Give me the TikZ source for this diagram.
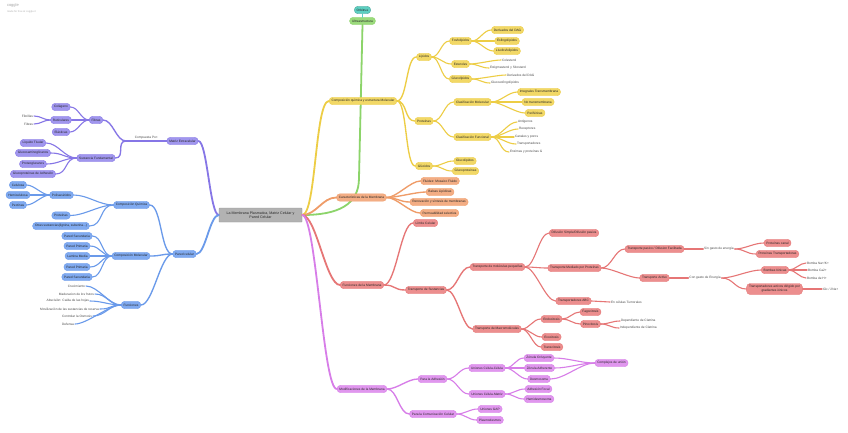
\documentclass[tikz,border=0pt]{standalone}
\usepackage{fontspec}
\setmainfont{Liberation Sans}
\usetikzlibrary{positioning}
\definecolor{vioL}{HTML}{8676E6}
\definecolor{vioF}{HTML}{A096EE}
\definecolor{bluL}{HTML}{6A9AEA}
\definecolor{bluF}{HTML}{80AAF0}
\definecolor{yelL}{HTML}{EDCD45}
\definecolor{yelF}{HTML}{F2D866}
\definecolor{oraL}{HTML}{EF9C68}
\definecolor{oraF}{HTML}{F3AD84}
\definecolor{redL}{HTML}{E67676}
\definecolor{redF}{HTML}{EC8E8E}
\definecolor{pnkL}{HTML}{D77DE8}
\definecolor{pnkF}{HTML}{E096EE}
\definecolor{grnL}{HTML}{8CD46A}
\definecolor{grnF}{HTML}{9BDA7C}
\definecolor{tealF}{HTML}{5DCFC1}
\begin{document}
\begin{tikzpicture}[x=1pt,y=-1pt,
    box/.style={rounded corners=3.5pt, inner xsep=2.4pt, inner ysep=0pt, minimum height=7.4pt,
        line width=0.35pt, font=\fontsize{3.2}{3.8}\selectfont, text=black!85},
    violetbox/.style={box, fill=vioF, draw=vioL},
    bluebox/.style={box, fill=bluF, draw=bluL},
    yellowbox/.style={box, fill=yelF, draw=yelL},
    orangebox/.style={box, fill=oraF, draw=oraL},
    redbox/.style={box, fill=redF, draw=redL},
    pinkbox/.style={box, fill=pnkF, draw=pnkL},
    greenbox/.style={box, fill=grnF, draw=grnL},
    tealbox/.style={box, fill=tealF, draw=tealF!80!black},
    txt/.style={inner sep=0.8pt, font=\fontsize{3.2}{3.8}\selectfont, text=black!70},
    fr/.style={out=0,in=180,distance=#1},
    fl/.style={out=180,in=0,distance=#1},
    l1/.style={line width=1.8pt, line cap=round},
    l2/.style={line width=1.35pt, line cap=round},
    l3/.style={line width=1.1pt, line cap=round},
]
\fill[white] (0,0) rectangle (848,432);
\useasboundingbox (0,0) rectangle (848,432);

% watermark
\node[txt, text=black!35, anchor=west, font=\fontsize{4}{5}\selectfont] (logo) at (6,5) {coggle};
\node[txt, text=black!30, anchor=west, font=\fontsize{2.6}{3}\selectfont] (made) at (6,12) {made for free at coggle.it};

% centre
\node[box, rounded corners=0.5pt, fill=black!30, draw=black!42, align=center,
    minimum width=83pt, minimum height=14pt, font=\fontsize{3.6}{4.3}\selectfont] (c) at (260.5,215)
    {La Membrana Plasmatica, Matriz Celular y\\Pared Celular};

% top
\node[tealbox] (orb) at (362.5,10) {Orbitrue};
\node[greenbox] (ultra) at (362.5,21) {Ultraestructura};
\coordinate (gbend) at (359,178);
\draw[grnL, l1] (c.east) .. controls (338,215) and (359,205) .. (gbend) -- (ultra.south);
\draw[tealF, l2] (orb.south) -- (ultra.north);

% yellow branch
\node[yellowbox] (comp) at (363,101) {Composición química y estructura Molecular};
\node[yellowbox] (lip) at (424,57) {Lípidos};
\node[yellowbox] (prot) at (424,121) {Proteínas};
\node[yellowbox] (gluc) at (424,166) {Glúcidos};
\node[yellowbox] (fosf) at (460.5,41) {Fosfolípidos};
\node[yellowbox] (est) at (460.5,64) {Esteroles};
\node[yellowbox] (glucl) at (460.5,79) {Glucolípidos};
\node[yellowbox] (dag) at (507.5,30) {Derivados del DAG};
\node[yellowbox] (esfing) at (507,41) {Esfingolípidos};
\node[yellowbox] (liso) at (507,51) {Lisofosfolípidos};
\node[txt, anchor=west] (colest) at (501,60) {Colesterol};
\node[txt, anchor=west] (estig) at (489,68) {Estigmasterol y Sitosterol};
\node[txt, anchor=west] (dagb) at (506,75) {Derivados del DAG};
\node[txt, anchor=west] (glesf) at (490,83) {Glucoesfingolípidos};
\node[yellowbox] (clmol) at (472.5,102) {Clasificación Molecular};
\node[yellowbox] (clfun) at (472.5,137) {Clasificación Funcional};
\node[yellowbox] (integ) at (539,92) {Integrales Transmembrana};
\node[yellowbox] (notr) at (538,102) {No transmembrana};
\node[yellowbox] (perif) at (535,113) {Periféricas};
\node[txt, anchor=west] (antig) at (517,122) {Antígenos};
\node[txt, anchor=west] (recep) at (518,129) {Receptores};
\node[txt, anchor=west] (canal) at (514,137) {Canales y poros};
\node[txt, anchor=west] (transp) at (516,144) {Transportadores};
\node[txt, anchor=west] (enzim) at (509,152) {Enzimas y proteínas G};
\node[yellowbox] (glucl2) at (465,161) {Glucolípidos};
\node[yellowbox] (glucp) at (465.5,171) {Glucoproteínas};

\draw[yelL, l1] (c.east) to[fr=14pt] (comp.west);
\draw[yelL, l2] (comp.east) to[fr=10pt] (lip.west);
\draw[yelL, l2] (comp.east) to[fr=10pt] (prot.west);
\draw[yelL, l2] (comp.east) to[fr=10pt] (gluc.west);
\draw[yelL, l3] (lip.east) to[fr=8pt] (fosf.west);
\draw[yelL, l3] (lip.east) to[fr=8pt] (est.west);
\draw[yelL, l3] (lip.east) to[fr=8pt] (glucl.west);
\draw[yelL, l3] (fosf.east) to[fr=8pt] (dag.west);
\draw[yelL, l3] (fosf.east) to[fr=8pt] (esfing.west);
\draw[yelL, l3] (fosf.east) to[fr=8pt] (liso.west);
\draw[yelL, l3] (est.east) to[fr=8pt] (colest.west);
\draw[yelL, l3] (est.east) to[fr=8pt] (estig.west);
\draw[yelL, l3] (glucl.east) to[fr=8pt] (dagb.west);
\draw[yelL, l3] (glucl.east) to[fr=8pt] (glesf.west);
\draw[yelL, l3] (prot.east) to[fr=9pt] (clmol.west);
\draw[yelL, l3] (prot.east) to[fr=9pt] (clfun.west);
\draw[yelL, l3] (clmol.east) to[fr=9pt] (integ.west);
\draw[yelL, l3] (clmol.east) to[fr=9pt] (notr.west);
\draw[yelL, l3] (clmol.east) to[fr=9pt] (perif.west);
\draw[yelL, l3] (clfun.east) to[fr=9pt] (antig.west);
\draw[yelL, l3] (clfun.east) to[fr=9pt] (recep.west);
\draw[yelL, l3] (clfun.east) to[fr=9pt] (canal.west);
\draw[yelL, l3] (clfun.east) to[fr=9pt] (transp.west);
\draw[yelL, l3] (clfun.east) to[fr=9pt] (enzim.west);
\draw[yelL, l3] (gluc.east) to[fr=9pt] (glucl2.west);
\draw[yelL, l3] (gluc.east) to[fr=9pt] (glucp.west);

% orange branch
\node[orangebox] (carac) at (361.5,197.5) {Características de la Membrana};
\node[orangebox] (fluid) at (440,181) {Fluidez: Mosaico Fluido};
\node[orangebox] (balsas) at (440,192) {Balsas Lipídicas};
\node[orangebox] (renov) at (439,202) {Renovación y síntesis de membranas};
\node[orangebox] (perm) at (439.5,213) {Permeabilidad selectiva};
\draw[oraL, l1] (c.east) to[fr=14pt] (carac.west);
\draw[oraL, l2] (carac.east) to[fr=10pt] (fluid.west);
\draw[oraL, l2] (carac.east) to[fr=10pt] (balsas.west);
\draw[oraL, l2] (carac.east) to[fr=10pt] (renov.west);
\draw[oraL, l2] (carac.east) to[fr=10pt] (perm.west);

% red branch
\node[redbox] (func2) at (362,285) {Funciones de la Membrana};
\node[redbox] (limite) at (425.5,223) {Límite Celular};
\node[redbox] (transus) at (426,290) {Transporte de Sustancias};
\node[redbox] (peq) at (497.5,267) {Transporte de moléculas pequeñas};
\node[redbox] (macro) at (497,329) {Transporte de Macromoléculas};
\node[redbox] (difs) at (574,233) {Difusión Simple/Difusión pasiva};
\node[redbox] (mediado) at (574.5,268) {Transporte Mediado por Proteínas};
\node[redbox] (abc) at (573.5,301) {Transportadores ABC};
\node[txt, anchor=west] (tumor) at (610,302) {En células Tumorales};
\node[redbox] (pasivo) at (654.5,249) {Transporte pasivo / Difusion Facilitada};
\node[txt] (sin) at (719,249) {Sin gasto de energía};
\node[redbox] (pcanal) at (777.5,243) {Proteínas canal};
\node[redbox] (ptransp) at (777.5,254) {Proteínas Transportadoras};
\node[redbox] (activo) at (654.5,278) {Transporte Activo};
\node[txt] (con) at (705,278) {Con gasto de Energía};
\node[redbox] (bombas) at (775,270) {Bombas Iónicas};
\node[redbox, align=center, minimum height=11pt] (tagi) at (774.5,289)
    {Transportadores activos dirigido por\\gradientes iónicos};
\node[txt, anchor=west] (nak) at (806,263) {Bomba Na+/K+};
\node[txt, anchor=west] (cadp) at (807,270) {Bomba Ca2+};
\node[txt, anchor=west] (hp) at (806,278) {Bomba de H+};
\node[txt, anchor=west] (glc) at (822,289) {Glc / 2Na+};
\node[redbox] (endo) at (551.5,319) {Endocitosis};
\node[redbox] (fago) at (590.5,312) {Fagocitosis};
\node[redbox] (pino) at (590.5,324) {Pinocitosis};
\node[txt, anchor=west] (dep) at (620,321) {Dependiente de Clatrina};
\node[txt, anchor=west] (indep) at (619,328) {Independiente de Clatrina};
\node[redbox] (exo) at (551.5,337) {Exocitosis};
\node[redbox] (transc) at (552,347) {Transcitosis};

\draw[redL, l1] (c.east) to[fr=14pt] (func2.west);
\draw[redL, l2] (func2.east) to[fr=12pt] (limite.west);
\draw[redL, l2] (func2.east) to[fr=12pt] (transus.west);
\draw[redL, l2] (transus.east) to[fr=10pt] (peq.west);
\draw[redL, l2] (transus.east) to[fr=10pt] (macro.west);
\draw[redL, l3] (peq.east) to[fr=10pt] (difs.west);
\draw[redL, l3] (peq.east) to[fr=10pt] (mediado.west);
\draw[redL, l3] (peq.east) to[fr=10pt] (abc.west);
\draw[redL, l3] (abc.east) -- (tumor.west);
\draw[redL, l3] (mediado.east) to[fr=10pt] (pasivo.west);
\draw[redL, l3] (mediado.east) to[fr=10pt] (activo.west);
\draw[redL, l3] (pasivo.east) -- (sin.west);
\draw[redL, l3] (sin.east) to[fr=10pt] (pcanal.west);
\draw[redL, l3] (sin.east) to[fr=10pt] (ptransp.west);
\draw[redL, l3] (activo.east) -- (con.west);
\draw[redL, l3] (con.east) to[fr=12pt] (bombas.west);
\draw[redL, l3] (con.east) to[fr=12pt] (tagi.west);
\draw[redL, l3] (bombas.east) to[fr=6pt] (nak.west);
\draw[redL, l3] (bombas.east) to[fr=6pt] (cadp.west);
\draw[redL, l3] (bombas.east) to[fr=6pt] (hp.west);
\draw[redL, l3] (tagi.east) -- (glc.west);
\draw[redL, l3] (macro.east) to[fr=8pt] (endo.west);
\draw[redL, l3] (macro.east) to[fr=8pt] (exo.west);
\draw[redL, l3] (macro.east) to[fr=8pt] (transc.west);
\draw[redL, l3] (endo.east) to[fr=7pt] (fago.west);
\draw[redL, l3] (endo.east) to[fr=7pt] (pino.west);
\draw[redL, l3] (pino.east) to[fr=8pt] (dep.west);
\draw[redL, l3] (pino.east) to[fr=8pt] (indep.west);

% pink branch
\node[pinkbox] (modif) at (362,389) {Modificaciones de la Membrana};
\node[pinkbox] (padh) at (432.5,379) {Para la Adhesión};
\node[pinkbox] (pcom) at (433,414) {Para la Comunicación Celular};
\node[pinkbox] (ucc) at (487,368) {Uniones Célula-Célula};
\node[pinkbox] (ucm) at (487,394) {Uniones Célula-Matriz};
\node[pinkbox] (zo) at (539,358) {Zónula Ocluyente};
\node[pinkbox] (za) at (539.5,368) {Zónula Adherente};
\node[pinkbox] (desm) at (539,379) {Desmosoma};
\node[pinkbox] (compl) at (611.5,363) {Complejos de unión};
\node[pinkbox] (afoc) at (538.5,389) {Adhesión Focal};
\node[pinkbox] (hemi) at (539,399) {Hemidesmosoma};
\node[pinkbox] (gap) at (490,409) {Uniones GAP};
\node[pinkbox] (plasmo) at (490,420) {Plasmodesmos};
\draw[pnkL, l1] (c.east) to[fr=14pt] (modif.west);
\draw[pnkL, l2] (modif.east) to[fr=10pt] (padh.west);
\draw[pnkL, l2] (modif.east) to[fr=10pt] (pcom.west);
\draw[pnkL, l3] (padh.east) to[fr=9pt] (ucc.west);
\draw[pnkL, l3] (padh.east) to[fr=9pt] (ucm.west);
\draw[pnkL, l3] (ucc.east) to[fr=8pt] (zo.west);
\draw[pnkL, l3] (ucc.east) to[fr=8pt] (za.west);
\draw[pnkL, l3] (ucc.east) to[fr=8pt] (desm.west);
\draw[pnkL, l3] (zo.east) to[fr=14pt] (compl.west);
\draw[pnkL, l3] (za.east) to[fr=14pt] (compl.west);
\draw[pnkL, l3] (desm.east) to[fr=14pt] (compl.west);
\draw[pnkL, l3] (ucm.east) to[fr=8pt] (afoc.west);
\draw[pnkL, l3] (ucm.east) to[fr=8pt] (hemi.west);
\draw[pnkL, l3] (pcom.east) to[fr=8pt] (gap.west);
\draw[pnkL, l3] (pcom.east) to[fr=8pt] (plasmo.west);

% violet branch
\node[violetbox] (matriz) at (182.5,141) {Matriz Extracelular};
\coordinate (cpor) at (126,141);
\node[violetbox] (fibras) at (96,120) {Fibras};
\node[violetbox] (sust) at (96,158) {Sustancia Fundamental};
\node[violetbox] (colag) at (61,107) {Colágeno};
\node[violetbox] (retic) at (61,120) {Reticulares};
\node[violetbox] (elast) at (61,132) {Elásticas};
\node[txt, anchor=east] (fibril) at (34,116) {Fibrillas};
\node[txt, anchor=east] (fibra) at (34,124) {Fibras};
\node[violetbox] (liq) at (33,143) {Líquido Tisular};
\node[violetbox] (gag) at (33,153) {Glucosaminoglicanos};
\node[violetbox] (proteog) at (33,164) {Proteoglucanos};
\node[violetbox] (glucad) at (33,174) {Glucoproteínas de Adhesión};
\draw[vioL, l1] (c.west) to[fl=9pt] (matriz.east);
\draw[vioL, l2] (matriz.west) -- node[txt, above=0.3pt] (cplab) {Compuesta Por:} (cpor);
\draw[vioL, l2] (cpor) to[fl=10pt] (fibras.east);
\draw[vioL, l2] (cpor) to[fl=10pt] (sust.east);
\draw[vioL, l3] (fibras.west) to[fl=8pt] (colag.east);
\draw[vioL, l3] (fibras.west) to[fl=8pt] (retic.east);
\draw[vioL, l3] (fibras.west) to[fl=8pt] (elast.east);
\draw[vioL, l3] (retic.west) to[fl=7pt] (fibril.east);
\draw[vioL, l3] (retic.west) to[fl=7pt] (fibra.east);
\draw[vioL, l3] (sust.west) to[fl=12pt] (liq.east);
\draw[vioL, l3] (sust.west) to[fl=12pt] (gag.east);
\draw[vioL, l3] (sust.west) to[fl=12pt] (proteog.east);
\draw[vioL, l3] (sust.west) to[fl=12pt] (glucad.east);

% blue branch
\node[bluebox] (pared) at (184.5,254) {Pared celular};
\node[bluebox] (cq) at (131.5,205) {Composición Química};
\node[bluebox] (cm) at (131,256) {Composición Molecular};
\node[bluebox] (funcs) at (131,305) {Funciones};
\node[bluebox] (polis) at (61.5,195) {Polisacáridos};
\node[bluebox] (prot2) at (61,215.5) {Proteínas};
\node[bluebox] (otras) at (61,226) {Otras sustancias(lignina, suberina...)};
\node[bluebox] (celu) at (18,185) {Celulosa};
\node[bluebox] (hemic) at (18,195) {Hemicelulosa};
\node[bluebox] (pect) at (18,205) {Pectinas};
\node[bluebox] (ps1) at (77,236) {Pared Secundaria};
\node[bluebox] (pp1) at (77,246) {Pared Primaria};
\node[bluebox] (lm) at (77.5,256) {Lamina Media};
\node[bluebox] (pp2) at (77,267) {Pared Primaria};
\node[bluebox] (ps2) at (77,277) {Pared Secundaria};
\node[txt, anchor=east] (crec) at (86,286) {Crecimiento};
\node[txt, anchor=east] (madur) at (95,294) {Maduracion de los frutos};
\node[txt, anchor=east] (absc) at (90,301) {Abscisión: Caída de las hojas};
\node[txt, anchor=east] (movil) at (100,309) {Movilización de las sustancias de reserva};
\node[txt, anchor=east] (osmo) at (93,316) {Controlar la Osmosis};
\node[txt, anchor=east] (defen) at (75,324) {Defensa};
\draw[bluL, l1] (c.west) to[fl=9pt] (pared.east);
\draw[bluL, l2] (pared.west) to[fl=12pt] (cq.east);
\draw[bluL, l2] (pared.west) to[fl=12pt] (cm.east);
\draw[bluL, l2] (pared.west) to[fl=12pt] (funcs.east);
\draw[bluL, l3] (cq.west) to[fl=14pt] (polis.east);
\draw[bluL, l3] (cq.west) to[fl=14pt] (prot2.east);
\draw[bluL, l3] (cq.west) to[fl=14pt] (otras.east);
\draw[bluL, l3] (polis.west) to[fl=7pt] (celu.east);
\draw[bluL, l3] (polis.west) to[fl=7pt] (hemic.east);
\draw[bluL, l3] (polis.west) to[fl=7pt] (pect.east);
\draw[bluL, l3] (cm.west) to[fl=10pt] (ps1.east);
\draw[bluL, l3] (cm.west) to[fl=10pt] (pp1.east);
\draw[bluL, l3] (cm.west) to[fl=10pt] (lm.east);
\draw[bluL, l3] (cm.west) to[fl=10pt] (pp2.east);
\draw[bluL, l3] (cm.west) to[fl=10pt] (ps2.east);
\draw[bluL, l3] (funcs.west) to[fl=12pt] (crec.east);
\draw[bluL, l3] (funcs.west) to[fl=12pt] (madur.east);
\draw[bluL, l3] (funcs.west) to[fl=12pt] (absc.east);
\draw[bluL, l3] (funcs.west) to[fl=12pt] (movil.east);
\draw[bluL, l3] (funcs.west) to[fl=12pt] (osmo.east);
\draw[bluL, l3] (funcs.west) to[fl=12pt] (defen.east);
\end{tikzpicture}
\end{document}
